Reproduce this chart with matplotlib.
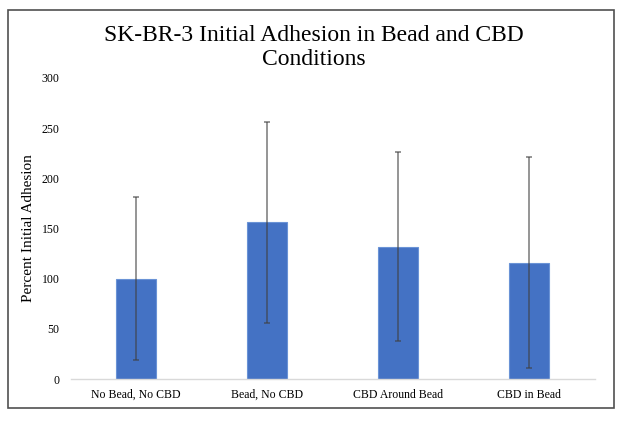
import matplotlib
matplotlib.use('Agg')
import matplotlib.pyplot as plt
from matplotlib.patches import Rectangle
import numpy as np

categories = ['No Bead, No CBD', 'Bead, No CBD', 'CBD Around Bead', 'CBD in Bead']
means = [100, 156, 132, 116]
errors = [81, 100, 94, 105]
y_ticks = [0, 50, 100, 150, 200, 250, 300]

plt.rcParams['font.family'] = 'Liberation Serif'

fig = plt.figure(figsize=(6.28, 4.25), dpi=100)
ax = fig.add_axes([0.1123, 0.1082, 0.8344, 0.7083])

x = np.arange(len(categories))
ax.bar(x, means, width=0.31, color='#4472C4', edgecolor='#6a93d6', linewidth=0.8, zorder=2)
ax.errorbar(x, means, yerr=errors, fmt='none', ecolor='#404040', alpha=0.6,
            elinewidth=1.3, capsize=2, capthick=1.3, zorder=3)

ax.set_xlim(-0.5, len(categories) - 0.5)
ax.set_ylim(0, 300)
ax.set_yticks(y_ticks)
ax.set_xticks(x)
ax.set_xticklabels(categories)
ax.tick_params(axis='both', length=0, labelsize=8.5, labelcolor='#000000')
ax.tick_params(axis='y', pad=8)
ax.tick_params(axis='x', pad=7)

for side in ['top', 'right', 'left']:
    ax.spines[side].set_visible(False)
ax.spines['bottom'].set_color('#d9d9d9')
ax.spines['bottom'].set_linewidth(1.0)

ax.set_ylabel('Percent Initial Adhesion', fontsize=11, labelpad=5)

fig.text(0.5, 0.888, 'SK-BR-3 Initial Adhesion in Bead and CBD\nConditions',
         ha='center', va='center', fontsize=17, linespacing=1.18,
         family='Liberation Serif')

# outer chart border
fig.patches.append(Rectangle((7.5 / 628, 1 - 408 / 425), 606 / 628, 398 / 425,
                             transform=fig.transFigure, fill=False,
                             edgecolor='#505050', linewidth=1.2))

fig.savefig('out.png', dpi=100)
